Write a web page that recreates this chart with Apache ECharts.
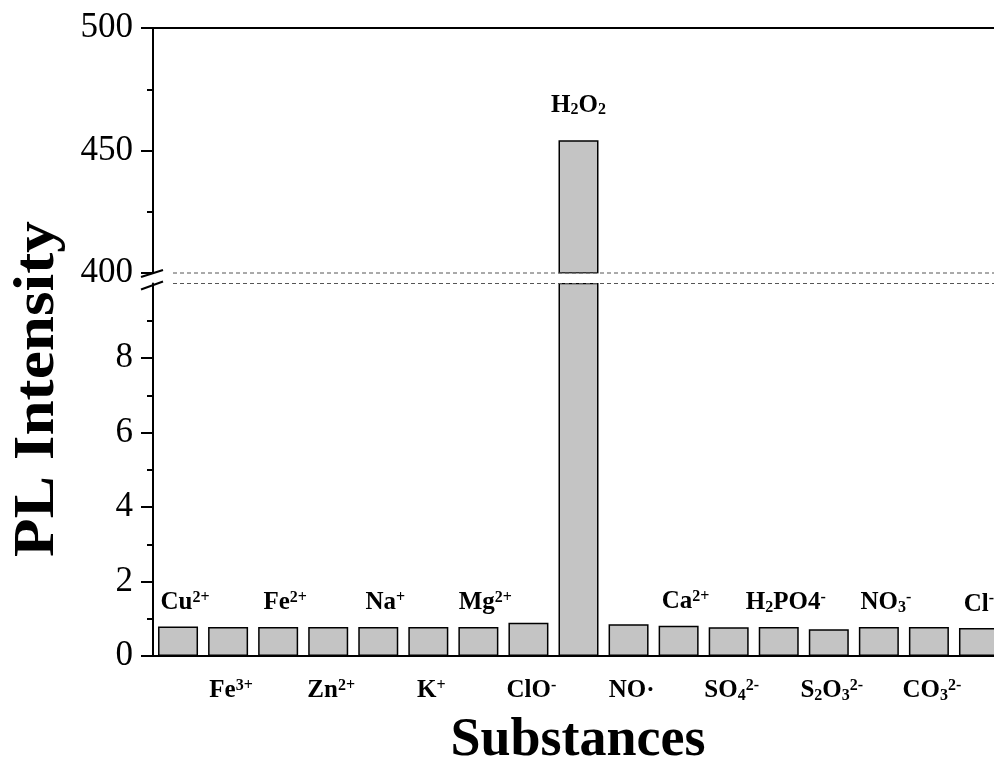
<!DOCTYPE html>
<html>
<head>
<meta charset="utf-8">
<script src="https://cdn.jsdelivr.net/npm/echarts@6/dist/echarts.min.js"></script>
<style>html,body{margin:0;padding:0;background:#fff;overflow:hidden}#c{width:1010px;height:766px}</style>
</head>
<body>
<div id="c"></div>
<script>
// ---- data ----
const categories = ['Cu2+', 'Fe3+', 'Fe2+', 'Zn2+', 'Na+', 'K+', 'Mg2+', 'ClO-', 'H2O2', 'NO·', 'Ca2+', 'SO4 2-', 'H2PO4-', 'S2O3 2-', 'NO3-', 'CO3 2-', 'Cl-'];
const labelMarkup = ['Cu{sup|2+}', 'Fe{sup|3+}', 'Fe{sup|2+}', 'Zn{sup|2+}', 'Na{sup|+}', 'K{sup|+}', 'Mg{sup|2+}', 'ClO{sup|-}', 'H{sub|2}O{sub|2}', 'NO·', 'Ca{sup|2+}', 'SO{sub|4}{sup|2-}', 'H{sub|2}PO4{sup|-}', 'S{sub|2}O{sub|3}{sup|2-}', 'NO{sub|3}{sup|-}', 'CO{sub|3}{sup|2-}', 'Cl{sup|-}'];
const intensity = [0.79, 0.78, 0.78, 0.78, 0.78, 0.78, 0.78, 0.89, 454.2, 0.85, 0.81, 0.77, 0.78, 0.72, 0.78, 0.78, 0.75];
const lowerRange = [0, 10];
const upperRange = [400, 500];
const lowerTicks = [0, 2, 4, 6, 8];
const upperTicks = [400, 450, 500];

const SERIF = '"Liberation Serif", "Times New Roman", serif';
const VIEW_W = 994;
const rich = {
  sup: { fontFamily: SERIF, fontWeight: 'bold', fontSize: 16, verticalAlign: 'top', lineHeight: 16, color: '#000' },
  sub: { fontFamily: SERIF, fontWeight: 'bold', fontSize: 16, verticalAlign: 'bottom', lineHeight: 16, color: '#000' }
};
const catLabel = { fontFamily: SERIF, fontWeight: 'bold', fontSize: 25, lineHeight: 26, color: '#000', rich: rich };

const yAxisCommon = {
  type: 'value',
  axisLine: { show: true, lineStyle: { color: '#000', width: 2 } },
  axisTick: { show: true, inside: false, length: 12, lineStyle: { color: '#000', width: 2 } },
  minorTick: { show: true, splitNumber: 2, length: 6, lineStyle: { color: '#000', width: 2 } },
  splitLine: { show: false },
  axisLabel: { fontFamily: SERIF, fontSize: 35, color: '#000', margin: 20 }
};

const chart = echarts.init(document.getElementById('c'), null, { renderer: 'canvas' });
const barStyle = { color: '#c4c4c4', borderColor: '#000', borderWidth: 1.5 };
// nudge labels a little right, but keep them inside the visible page
const nudgeInView = p => {
  const room = (VIEW_W - 3) - (p.labelRect.x + p.labelRect.width);
  return { dx: Math.min(7, room) };
};

chart.setOption({
  animation: false,
  backgroundColor: '#fff',
  grid: [
    { left: 153, top: 28, width: 851, height: 245 },
    { left: 153, top: 283.5, width: 851, height: 372.5 }
  ],
  xAxis: [
    { gridIndex: 0, type: 'category', data: categories, position: 'top',
      axisLine: { show: true, lineStyle: { color: '#000', width: 2 } },
      axisTick: { show: false }, axisLabel: { show: false } },
    { gridIndex: 1, type: 'category', data: categories, position: 'bottom',
      axisLine: { show: true, lineStyle: { color: '#000', width: 2 } },
      axisTick: { show: false },
      axisLabel: Object.assign({}, catLabel, { margin: 22, interval: 0, padding: [0, 0, 0, 6],
        formatter: (v, i) => (i % 2 === 1 ? labelMarkup[i] : '') }) }
  ],
  yAxis: [
    Object.assign({}, yAxisCommon, { gridIndex: 0, min: upperRange[0], max: upperRange[1], interval: 50,
      axisTick: Object.assign({}, yAxisCommon.axisTick, { customValues: upperTicks }),
      axisLabel: Object.assign({}, yAxisCommon.axisLabel, { customValues: upperTicks }) }),
    Object.assign({}, yAxisCommon, { gridIndex: 1, min: lowerRange[0], max: lowerRange[1], interval: 2,
      axisTick: Object.assign({}, yAxisCommon.axisTick, { customValues: lowerTicks }),
      axisLabel: Object.assign({}, yAxisCommon.axisLabel, { customValues: lowerTicks }) })
  ],
  series: [
    { type: 'bar', xAxisIndex: 0, yAxisIndex: 0, barWidth: 40, clip: true,
      data: intensity.map(v => (v >= upperRange[0] ? v : '-')),
      itemStyle: barStyle,
      label: Object.assign({}, catLabel, { show: true, position: 'top', distance: 22,
        formatter: p => labelMarkup[p.dataIndex] }) },
    { type: 'bar', xAxisIndex: 1, yAxisIndex: 1, barWidth: 40, clip: true,
      data: intensity,
      itemStyle: barStyle,
      labelLayout: nudgeInView,
      label: Object.assign({}, catLabel, { show: true, position: 'top', distance: 11,
        formatter: p => (p.dataIndex % 2 === 0 && p.value <= lowerRange[1] ? labelMarkup[p.dataIndex] : '') }) }
  ]
});

// break decorations, positioned from the axes' own scales
const yUp = chart.convertToPixel({ yAxisIndex: 0 }, upperRange[0]);
const yLow = chart.convertToPixel({ yAxisIndex: 1 }, lowerRange[1]);
const axisX = chart.getModel().getComponent('grid', 0).coordinateSystem.getRect().x;
const dash = { stroke: '#555', lineWidth: 1, lineDash: [4, 3] };
chart.setOption({
  graphic: [
    { type: 'line', shape: { x1: axisX + 20, y1: yUp, x2: 1010, y2: yUp }, style: dash, z: 100 },
    { type: 'line', shape: { x1: axisX + 20, y1: yLow, x2: 1010, y2: yLow }, style: dash, z: 100 },
    { type: 'rect', shape: { x: axisX + 21, y: yUp + 0.6, width: 860, height: yLow - yUp - 1.2 }, style: { fill: '#fff' }, z: 99 },
    { type: 'line', shape: { x1: axisX - 12, y1: yUp + 4, x2: axisX + 10, y2: yUp - 3 }, style: { stroke: '#000', lineWidth: 2 }, z: 100 },
    { type: 'line', shape: { x1: axisX - 12, y1: yLow + 6, x2: axisX + 10, y2: yLow - 2 }, style: { stroke: '#000', lineWidth: 2 }, z: 100 },
    { type: 'text', x: 39, y: 389, rotation: Math.PI / 2, scaleX: 1.13,
      style: { text: 'PL Intensity', font: 'bold 56px ' + SERIF, fill: '#000', align: 'center', verticalAlign: 'middle' } },
    { type: 'text', x: 578, y: 741,
      style: { text: 'Substances', font: 'bold 54px ' + SERIF, fill: '#000', align: 'center', verticalAlign: 'middle' } }
  ]
});
</script>
</body>
</html>
